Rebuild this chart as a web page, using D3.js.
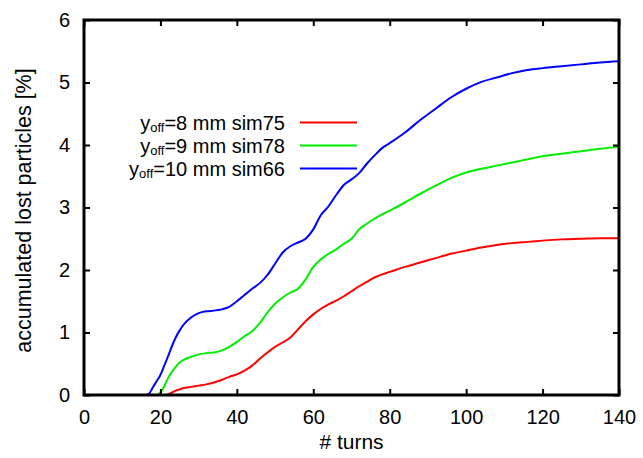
<!DOCTYPE html>
<html>
<head>
<meta charset="utf-8">
<script src="https://cdn.jsdelivr.net/npm/d3@7"></script>
<style>
  html, body { margin: 0; padding: 0; background: #fff; }
  svg { display: block; font-family: "Liberation Sans", Arial, sans-serif; }
</style>
</head>
<body>
<svg id="chart" width="643" height="458"></svg>
<script>
// ---- data ----
const turns = [0,16,17,18,19,20,21,22,23,24,25,26,28,30,32,34,36,38,40,42,44,46,48,50,52,54,56,58,60,62,64,66,68,70,72,74,76,78,80,84,88,92,96,100,104,108,112,116,120,125,130,135,140];
const sim75 = [0,0,0,0,0,0,0,0.01,0.04,0.07,0.09,0.11,0.13,0.15,0.17,0.20,0.24,0.29,0.33,0.39,0.47,0.58,0.68,0.77,0.84,0.92,1.05,1.18,1.29,1.38,1.45,1.51,1.58,1.66,1.74,1.81,1.88,1.93,1.97,2.05,2.12,2.19,2.26,2.31,2.36,2.40,2.43,2.45,2.47,2.49,2.50,2.51,2.51];
const sim78 = [0,0,0,0,0,0.04,0.14,0.27,0.37,0.45,0.52,0.56,0.61,0.65,0.67,0.68,0.71,0.77,0.85,0.94,1.02,1.15,1.32,1.46,1.56,1.64,1.70,1.85,2.05,2.17,2.26,2.33,2.42,2.50,2.65,2.74,2.82,2.89,2.95,3.08,3.22,3.35,3.47,3.56,3.62,3.67,3.72,3.77,3.82,3.86,3.90,3.94,3.97];
const sim66 = [0,0,0.02,0.12,0.22,0.32,0.47,0.62,0.78,0.92,1.03,1.12,1.24,1.31,1.34,1.35,1.37,1.41,1.50,1.60,1.70,1.79,1.92,2.10,2.28,2.38,2.44,2.50,2.65,2.88,3.02,3.20,3.36,3.45,3.55,3.70,3.83,3.95,4.03,4.20,4.40,4.58,4.76,4.90,5.01,5.08,5.15,5.20,5.23,5.26,5.29,5.32,5.34];
const seriesNames = ["8 mm sim75", "9 mm sim78", "10 mm sim66"];
const seriesColors = ["#ff0000", "#00ee00", "#0000ff"];
const xTicks = [0,20,40,60,80,100,120,140];
const yTicks = [0,1,2,3,4,5,6];
const xLabel = "# turns";
const yLabel = "accumulated lost particles [%]";

// ---- layout ----
const W = 643, H = 458;
const m = {left: 84, right: 24, top: 20, bottom: 63};
const svg = d3.select("#chart");
const x = d3.scaleLinear().domain([0,140]).range([m.left, W - m.right]);
const y = d3.scaleLinear().domain([0,6]).range([H - m.bottom, m.top]);

const series = [sim75, sim78, sim66];

// curves (drawn first so the frame sits on top at y=0)
const line = d3.line().x(d => x(d[0])).y(d => y(d[1])).curve(d3.curveMonotoneX);
series.forEach((vals, i) => {
  svg.append("path")
    .datum(turns.map((t, k) => [t, vals[k]]))
    .attr("fill", "none")
    .attr("stroke", seriesColors[i])
    .attr("stroke-width", 2)
    .attr("stroke-linejoin", "round")
    .attr("d", line);
});

// axes with inward ticks
function styleAxis(g) {
  g.select(".domain").remove();
  g.selectAll(".tick line").attr("stroke", "#000").attr("stroke-width", 2);
  g.selectAll(".tick text").attr("fill", "#000").style("font-size", "20px")
    .style("font-family", "'Liberation Sans', Arial, sans-serif");
}
svg.append("g").attr("transform", `translate(0,${y(0)})`)
  .call(d3.axisBottom(x).tickValues(xTicks).tickFormat(d3.format("d")).tickSize(-6).tickPadding(15))
  .call(styleAxis);
svg.append("g").attr("transform", `translate(0,${y(6)})`)
  .call(d3.axisTop(x).tickValues(xTicks).tickFormat("").tickSize(-6))
  .call(styleAxis);
svg.append("g").attr("transform", `translate(${x(0)},0)`)
  .call(d3.axisLeft(y).tickValues(yTicks).tickFormat(d3.format("d")).tickSize(-6).tickPadding(14))
  .call(styleAxis);
svg.append("g").attr("transform", `translate(${x(140)},0)`)
  .call(d3.axisRight(y).tickValues(yTicks).tickFormat("").tickSize(-6))
  .call(styleAxis);

// frame
svg.append("rect")
  .attr("x", x(0)).attr("y", y(6))
  .attr("width", x(140) - x(0)).attr("height", y(0) - y(6))
  .attr("fill", "none").attr("stroke", "#000").attr("stroke-width", 3);

// axis titles
svg.append("text")
  .attr("x", (x(0) + x(140)) / 2).attr("y", 449)
  .attr("text-anchor", "middle").style("font-size", "21px")
  .text(xLabel);
svg.append("text")
  .attr("transform", `translate(31,${(y(0) + y(6)) / 2 + 3}) rotate(-90)`)
  .attr("text-anchor", "middle").style("font-size", "21.5px")
  .text(yLabel);

// legend
const legY = [122.5, 145.5, 168.5];
series.forEach((vals, i) => {
  const t = svg.append("text")
    .attr("x", 285).attr("y", legY[i] + 7)
    .attr("text-anchor", "end").style("font-size", "20px");
  t.append("tspan").text("y");
  t.append("tspan").attr("dy", 2).style("font-size", "13px").text("off");
  t.append("tspan").attr("dy", -2).text("=" + seriesNames[i]);
  svg.append("line")
    .attr("x1", 300).attr("x2", 357)
    .attr("y1", legY[i]).attr("y2", legY[i])
    .attr("stroke", seriesColors[i]).attr("stroke-width", 2);
});
</script>
</body>
</html>
